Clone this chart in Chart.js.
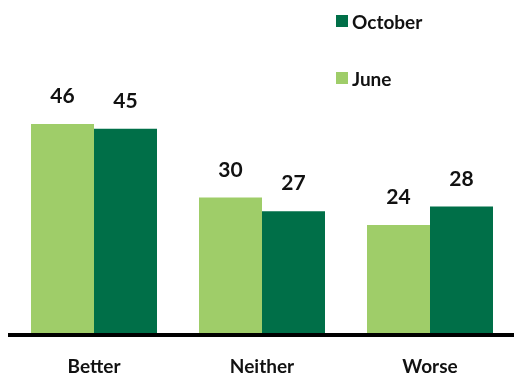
<!DOCTYPE html>
<html>
<head>
<meta charset="utf-8">
<script src="https://cdn.jsdelivr.net/npm/chart.js@4"></script>
<style>
  html, body { margin: 0; padding: 0; background: #fff; }
  #wrap { position: relative; width: 514px; height: 374px; }
  #legende { position: absolute; left: 336px; top: 9px; font: bold 19px Lato, "Liberation Sans", sans-serif; color: #111; }
  #legende div { display: flex; align-items: center; height: 24px; margin-bottom: 33px; }
  #legende span.carre { width: 12px; height: 12px; margin-right: 4px; display: inline-block; }
</style>
</head>
<body>
<div id="wrap">
  <canvas id="graphique" width="514" height="374"></canvas>
  <div id="legende"></div>
</div>
<script>
// Perception de la situation : juin vs octobre
const categories = ['Better', 'Neither', 'Worse'];
const juin = [46, 30, 24];
const octobre = [45, 27, 28];

const vertClair = '#9FCD69';
const vertFonce = '#006F48';
const police = 'Lato, "Liberation Sans", sans-serif';

// Valeurs au-dessus des barres
const etiquettes = {
  id: 'etiquettes',
  afterDatasetsDraw(chart) {
    const ctx = chart.ctx;
    ctx.save();
    ctx.font = 'bold 21px ' + police;
    ctx.fillStyle = '#111';
    ctx.textAlign = 'center';
    ctx.textBaseline = 'bottom';
    chart.data.datasets.forEach((ds, i) => {
      chart.getDatasetMeta(i).data.forEach((bar, j) => {
        ctx.fillText(ds.data[j], bar.x, bar.y - 17);
      });
    });
    ctx.restore();
  },
};

const graphique = new Chart(document.getElementById('graphique'), {
  type: 'bar',
  data: {
    labels: categories,
    datasets: [
      { label: 'June', data: juin, backgroundColor: vertClair },
      { label: 'October', data: octobre, backgroundColor: vertFonce },
    ],
  },
  options: {
    responsive: false,
    animation: false,
    layout: { padding: { left: 10, right: 0, top: 14, bottom: 0 } },
    datasets: { bar: { categoryPercentage: 0.75, barPercentage: 1 } },
    plugins: {
      legend: { display: false },
      tooltip: { enabled: false },
    },
    scales: {
      y: { display: false, min: 0, max: 70 },
      x: {
        // hauteur fixe pour caler l'axe
        afterFit: (scale) => { scale.height = 39; },
        grid: { display: false, drawTicks: false },
        border: { display: true, color: '#000', width: 4, z: 1 },
        ticks: { color: '#111', font: { family: police, size: 19, weight: 'bold' }, padding: 20, maxRotation: 0 },
      },
    },
  },
  plugins: [etiquettes],
});

// Légende : octobre en haut, juin en dessous
const legende = document.getElementById('legende');
graphique.data.datasets.slice().reverse().forEach((ds) => {
  const ligne = document.createElement('div');
  ligne.innerHTML = '<span class="carre" style="background:' + ds.backgroundColor + '"></span>' + ds.label;
  legende.appendChild(ligne);
});
</script>
</body>
</html>
